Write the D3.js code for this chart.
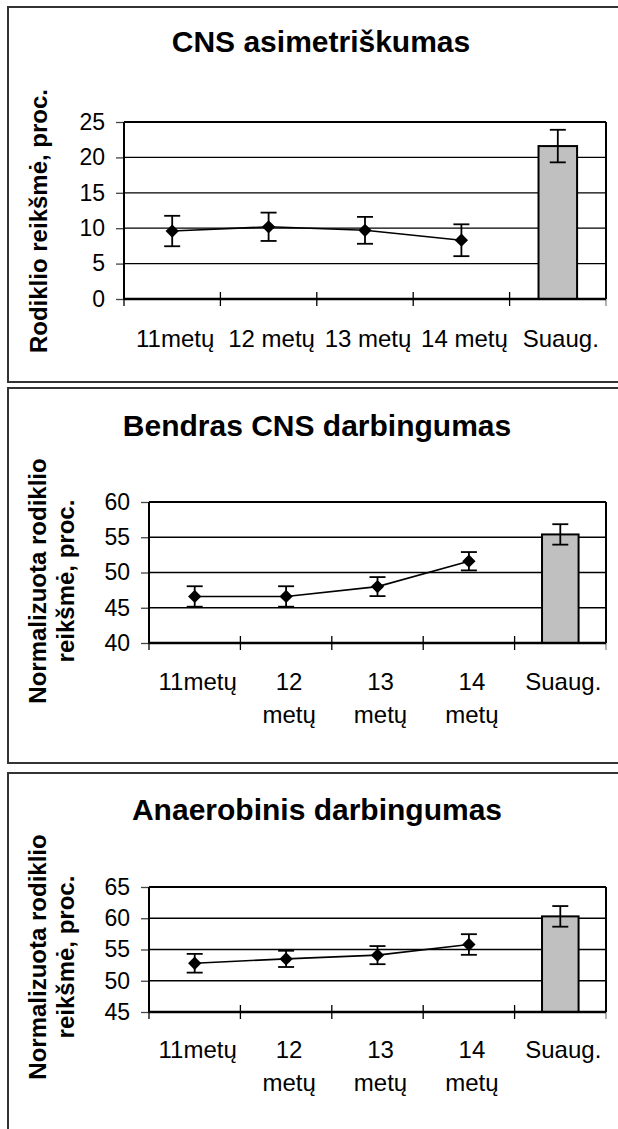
<!DOCTYPE html>
<html>
<head>
<meta charset="utf-8">
<script src="https://cdn.jsdelivr.net/npm/d3@7"></script>
<style>
  body { margin: 0; background: #fff; }
  svg { display: block; }
  text { font-family: "Liberation Sans", Arial, sans-serif; fill: #000; }
</style>
</head>
<body>
<svg id="chart" width="618" height="1129"></svg>
<script>
// amžiaus grupės (x ašis)
var categories = ["11metų", "12 metų", "13 metų", "14 metų", "Suaug."];
// siauresniuose grafikuose etiketės laužomos į dvi eilutes
var categoryLines = [["11metų"], ["12", "metų"], ["13", "metų"], ["14", "metų"], ["Suaug."]];

// CNS asimetriškumas
var asimMean = [9.6, 10.2, 9.7, 8.3];
var asimErr = [2.15, 2.0, 1.9, 2.25];
var asimAdult = 21.6, asimAdultErr = 2.3;
var asimTicks = [0, 5, 10, 15, 20, 25];

// Bendras CNS darbingumas
var bendMean = [46.6, 46.6, 48.0, 51.6];
var bendErr = [1.45, 1.45, 1.35, 1.3];
var bendAdult = 55.4, bendAdultErr = 1.45;
var bendTicks = [40, 45, 50, 55, 60];

// Anaerobinis darbingumas
var anaMean = [52.8, 53.5, 54.1, 55.8];
var anaErr = [1.5, 1.3, 1.45, 1.65];
var anaAdult = 60.3, anaAdultErr = 1.65;
var anaTicks = [45, 50, 55, 60, 65];

var panels = [
  { top: 7, bottom: 382, title: "CNS asimetriškumas", tx: 321, ty: 52,
    yTitle: ["Rodiklio reikšmė, proc."], yTitleX: [47], yTitleY: 221,
    x0: 124, x1: 606, y0: 122, y1: 299, ticks: asimTicks,
    mean: asimMean, err: asimErr, adult: asimAdult, adultErr: asimAdultErr,
    split: false, labelY: 347 },
  { top: 388, bottom: 763, title: "Bendras CNS darbingumas", tx: 317, ty: 436,
    yTitle: ["Normalizuota rodiklio", "reikšmė, proc."], yTitleX: [46, 74], yTitleY: 581,
    x0: 149, x1: 606, y0: 502, y1: 643, ticks: bendTicks,
    mean: bendMean, err: bendErr, adult: bendAdult, adultErr: bendAdultErr,
    split: true, labelY: 690 },
  { top: 773, bottom: 1200, title: "Anaerobinis darbingumas", tx: 317, ty: 820,
    yTitle: ["Normalizuota rodiklio", "reikšmė, proc."], yTitleX: [46, 74], yTitleY: 957,
    x0: 149, x1: 606, y0: 887, y1: 1012, ticks: anaTicks,
    mean: anaMean, err: anaErr, adult: anaAdult, adultErr: anaAdultErr,
    split: true, labelY: 1058 }
];

var svg = d3.select("#chart");

panels.forEach(function(p) {
  var g = svg.append("g");

  // rėmelis
  g.append("rect")
    .attr("x", 8).attr("y", p.top)
    .attr("width", 700).attr("height", p.bottom - p.top)
    .attr("fill", "#fff").attr("stroke", "#333").attr("stroke-width", 2);

  var x = d3.scaleBand().domain(categories).range([p.x0, p.x1]);
  var bw = x.bandwidth();
  var y = d3.scaleLinear().domain(d3.extent(p.ticks)).range([p.y1, p.y0]);

  // pavadinimas
  g.append("text")
    .attr("x", p.tx).attr("y", p.ty)
    .attr("text-anchor", "middle")
    .attr("font-size", 30).attr("font-weight", "bold")
    .text(p.title);

  // y ašies pavadinimas
  p.yTitle.forEach(function(line, i) {
    g.append("text")
      .attr("transform", "translate(" + p.yTitleX[i] + "," + p.yTitleY + ") rotate(-90)")
      .attr("text-anchor", "middle")
      .attr("font-size", 24).attr("font-weight", "bold")
      .text(line);
  });

  // tinklelio linijos
  g.append("g").selectAll("line")
    .data(p.ticks.slice(1))
    .enter().append("line")
    .attr("x1", p.x0).attr("x2", p.x1)
    .attr("y1", d => y(d)).attr("y2", d => y(d))
    .attr("stroke", "#000").attr("stroke-width", 1.3);

  // y ašis
  var yAxis = g.append("g")
    .attr("transform", "translate(" + p.x0 + ",0)")
    .call(d3.axisLeft(y).tickValues(p.ticks).tickSize(8).tickPadding(11));
  yAxis.select(".domain").remove();
  yAxis.selectAll("line").attr("stroke", "#444").attr("stroke-width", 1.3);
  yAxis.selectAll("text")
    .attr("font-size", 23)
    .attr("font-family", "\"Liberation Sans\", Arial, sans-serif")
    .attr("fill", "#000");

  // dešinė kraštinė
  g.append("line")
    .attr("x1", p.x1).attr("x2", p.x1).attr("y1", p.y0).attr("y2", p.y1)
    .attr("stroke", "#000").attr("stroke-width", 2);
  g.append("line")
    .attr("x1", p.x0).attr("x2", p.x1).attr("y1", p.y0).attr("y2", p.y0)
    .attr("stroke", "#000").attr("stroke-width", 2);

  // x ašies padalos ant kategorijų ribų
  var bounds = categories.map(c => x(c)).concat([p.x1]);
  g.append("g").selectAll("line")
    .data(bounds)
    .enter().append("line")
    .attr("x1", d => d).attr("x2", d => d)
    .attr("y1", (d, i) => i == 0 || i == bounds.length - 1 ? p.y1 : p.y1 - 7)
    .attr("y2", p.y1 + 7)
    .attr("stroke", (d, i) => i == bounds.length - 1 ? "#888" : "#000")
    .attr("stroke-width", 1.3);

  // suaugusiųjų stulpelis
  var adultCat = categories[4];
  g.append("rect")
    .attr("x", x(adultCat) + bw * 0.3)
    .attr("width", bw * 0.4)
    .attr("y", y(p.adult))
    .attr("height", p.y1 - y(p.adult))
    .attr("fill", "#c0c0c0").attr("stroke", "#000").attr("stroke-width", 2);

  // ašių linijos
  g.append("line")
    .attr("x1", p.x0).attr("x2", p.x0).attr("y1", p.y0).attr("y2", p.y1)
    .attr("stroke", "#000").attr("stroke-width", 2);
  g.append("line")
    .attr("x1", p.x0).attr("x2", p.x1).attr("y1", p.y1).attr("y2", p.y1)
    .attr("stroke", "#000").attr("stroke-width", 2.5);

  // vaikų grupių linija
  var pts = p.mean.map((v, i) => ({ cx: x(categories[i]) + bw / 2, v: v, e: p.err[i] }));
  var line = d3.line().x(d => d.cx).y(d => y(d.v));
  g.append("path")
    .datum(pts)
    .attr("d", line)
    .attr("fill", "none").attr("stroke", "#000").attr("stroke-width", 1.6);

  // paklaidų stulpeliai
  var errs = pts.concat([{ cx: x(adultCat) + bw / 2, v: p.adult, e: p.adultErr }]);
  var eb = g.append("g").selectAll("g")
    .data(errs)
    .enter().append("g")
    .attr("stroke", "#000").attr("stroke-width", 1.8);
  eb.append("line")
    .attr("x1", d => d.cx).attr("x2", d => d.cx)
    .attr("y1", d => y(d.v + d.e)).attr("y2", d => y(d.v - d.e));
  eb.append("line")
    .attr("x1", d => d.cx - 8).attr("x2", d => d.cx + 8)
    .attr("y1", d => y(d.v + d.e)).attr("y2", d => y(d.v + d.e));
  eb.append("line")
    .attr("x1", d => d.cx - 8).attr("x2", d => d.cx + 8)
    .attr("y1", d => y(d.v - d.e)).attr("y2", d => y(d.v - d.e));

  // rombai
  g.append("g").selectAll("path")
    .data(pts)
    .enter().append("path")
    .attr("d", d3.symbol(d3.symbolSquare, 88))
    .attr("transform", d => "translate(" + d.cx + "," + y(d.v) + ") rotate(45)")
    .attr("fill", "#000");

  // x ašies etiketės
  var labels = g.append("g").selectAll("text")
    .data(categories)
    .enter().append("text")
    .attr("x", d => x(d) + bw / 2 + 3)
    .attr("y", p.labelY)
    .attr("text-anchor", "middle")
    .attr("font-size", 24);
  labels.each(function(d, i) {
    var t = d3.select(this);
    var parts = p.split ? categoryLines[i] : [d];
    parts.forEach(function(s, j) {
      t.append("tspan")
        .attr("x", x(d) + bw / 2 + 3)
        .attr("dy", j == 0 ? 0 : 33)
        .text(s);
    });
  });
});
</script>
</body>
</html>
